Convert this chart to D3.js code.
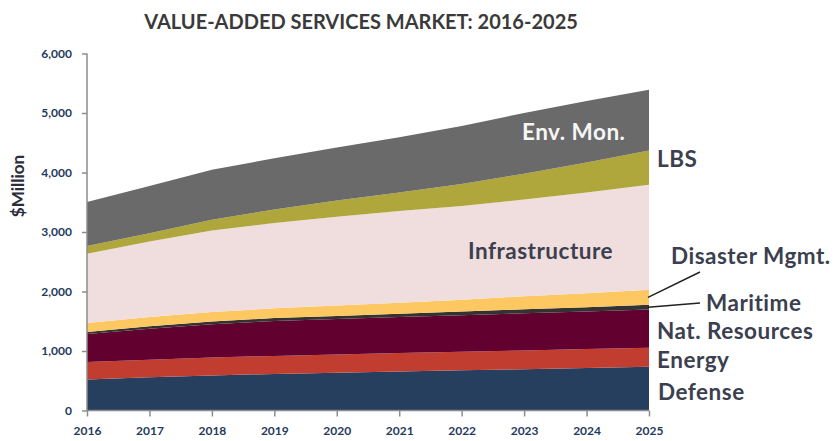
<!DOCTYPE html>
<html>
<head>
<meta charset="utf-8">
<script src="https://cdn.jsdelivr.net/npm/d3@7"></script>
<style>
  body { margin: 0; background: #fff; }
  svg text { font-family: Lato, 'Open Sans', sans-serif; }
  .axis path, .axis line { stroke: #8c8c8c; stroke-width: 1.5; }
  .axis text { fill: #253a5c; font-size: 12px; font-weight: bold; }
</style>
</head>
<body>
<div id="chart"></div>
<script>
const years = [2016, 2017, 2018, 2019, 2020, 2021, 2022, 2023, 2024, 2025]
const yTicks = [0, 1000, 2000, 3000, 4000, 5000, 6000]

// $Million per segment, bottom to top
const defense = [520, 560, 590, 615, 635, 655, 675, 695, 715, 736]
const energy = [295, 295, 300, 303, 308, 312, 312, 315, 318, 320]
const natResources = [470, 520, 560, 585, 595, 605, 615, 625, 632, 640]
const maritime = [35, 40, 45, 50, 52, 55, 60, 65, 72, 80]
const disasterMgmt = [150, 155, 160, 165, 175, 185, 200, 220, 235, 252]
const infrastructure = [1165, 1270, 1370, 1435, 1490, 1540, 1575, 1625, 1690, 1765]
const lbs = [130, 140, 180, 225, 275, 310, 370, 435, 505, 576]
const envMon = [740, 795, 840, 860, 890, 930, 975, 1020, 1035, 1020]

const seriesKeys = ['defense', 'energy', 'natResources', 'maritime', 'disasterMgmt', 'infrastructure', 'lbs', 'envMon']
const seriesValues = [defense, energy, natResources, maritime, disasterMgmt, infrastructure, lbs, envMon]

const colors = {
  defense: '#263f5f',
  energy: '#c13d2f',
  natResources: '#620030',
  maritime: '#333333',
  disasterMgmt: '#fdc862',
  infrastructure: '#f0dddd',
  lbs: '#afa73c',
  envMon: '#6a6a6a'
}

const table = years.map((yr, i) => {
  const row = { year: yr }
  seriesKeys.forEach((k, j) => { row[k] = seriesValues[j][i] })
  return row
})

const svg = d3
  .select('#chart')
  .append('svg')
  .attr('width', 836)
  .attr('height', 441)

const xPositionScale = d3.scaleLinear().domain([2016, 2025]).range([87, 649])
const yPositionScale = d3.scaleLinear().domain([0, 6000]).range([410.5, 53.5])

const stacked = d3.stack().keys(seriesKeys)(table)

const area = d3
  .area()
  .x(d => xPositionScale(d.data.year))
  .y0(d => yPositionScale(d[0]))
  .y1(d => yPositionScale(d[1]))

svg
  .selectAll('.layer')
  .data(stacked)
  .enter()
  .append('path')
  .attr('class', 'layer')
  .attr('d', area)
  .attr('fill', d => colors[d.key])

// axes
const yAxis = d3
  .axisLeft(yPositionScale)
  .tickValues(yTicks)
  .tickFormat(d3.format(','))
  .tickSize(5)
  .tickPadding(10)

svg
  .append('g')
  .attr('class', 'axis y-axis')
  .attr('transform', 'translate(87,0)')
  .call(yAxis)
svg.selectAll('.y-axis .domain').attr('d', 'M0,53.5V410.5')

const xAxis = d3
  .axisBottom(xPositionScale)
  .tickValues(years)
  .tickFormat(d3.format('d'))
  .tickSize(6)
  .tickPadding(10)

svg
  .append('g')
  .attr('class', 'axis x-axis')
  .attr('transform', 'translate(0,410.5)')
  .call(xAxis)
svg.selectAll('.x-axis .domain').attr('d', 'M87,0H649')

// title
svg
  .append('text')
  .attr('x', 361)
  .attr('y', 29)
  .attr('text-anchor', 'middle')
  .attr('font-size', 20)
  .attr('font-weight', 'bold')
  .attr('fill', '#3a3a3a')
  .text('VALUE-ADDED SERVICES MARKET: 2016-2025')

svg
  .append('text')
  .attr('transform', 'translate(24,186) rotate(-90)')
  .attr('text-anchor', 'middle')
  .attr('font-size', 17)
  .attr('font-weight', 'bold')
  .attr('fill', '#2c2c3a')
  .text('$Million')

// series labels
const labelColor = '#3b3f4f'
const labels = [
  { text: 'Env. Mon.', x: 522, y: 140, fill: '#f6f6f6' },
  { text: 'Infrastructure', x: 468, y: 259, fill: labelColor },
  { text: 'LBS', x: 657, y: 167, fill: labelColor },
  { text: 'Disaster Mgmt.', x: 671, y: 264, fill: labelColor },
  { text: 'Maritime', x: 706, y: 311, fill: labelColor },
  { text: 'Nat. Resources', x: 657, y: 339, fill: labelColor },
  { text: 'Energy', x: 657, y: 368, fill: labelColor },
  { text: 'Defense', x: 658, y: 400, fill: labelColor }
]

svg
  .selectAll('.series-label')
  .data(labels)
  .enter()
  .append('text')
  .attr('class', 'series-label')
  .attr('x', d => d.x)
  .attr('y', d => d.y)
  .attr('font-size', 22.5)
  .attr('font-weight', 'bold')
  .attr('letter-spacing', 0.5)
  .attr('fill', d => d.fill)
  .text(d => d.text)

// leader lines for the thin bands
const last = stacked.map(s => s[s.length - 1])
const disasterMid = (last[4][0] + last[4][1]) / 2
const maritimeMid = (last[3][0] + last[3][1]) / 2

svg
  .append('line')
  .attr('x1', 648)
  .attr('y1', yPositionScale(disasterMid))
  .attr('x2', 700)
  .attr('y2', 272)
  .attr('stroke', '#222')
  .attr('stroke-width', 1.5)

svg
  .append('line')
  .attr('x1', 648)
  .attr('y1', yPositionScale(maritimeMid))
  .attr('x2', 700)
  .attr('y2', 303)
  .attr('stroke', '#222')
  .attr('stroke-width', 1.5)
</script>
</body>
</html>
